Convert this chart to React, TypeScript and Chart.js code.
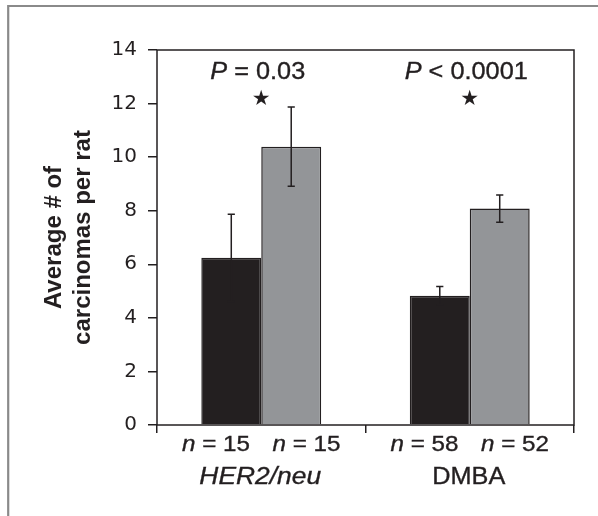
import React, { useEffect, useRef } from 'react';
import { Chart, registerables } from 'chart.js';

Chart.register(...registerables);

// ---- data ----
const categories = ['HER2/neu', 'DMBA'];
const categoryItalic = [true, false];
const darkValues = [6.24, 4.83];
const darkErrors = [1.63, 0.34];
const greyValues = [10.39, 8.08];
const greyErrors = [1.48, 0.51];
const darkN = [15, 58];
const greyN = [15, 52];
const pComparisons = ['= 0.03', '< 0.0001'];
const yTickMin = 0;
const yTickMax = 14;
const yTickStep = 2;
const yTitle = ['Average # of', 'carcinomas per rat'];

const INK = '#231f20';
const GREY = '#939598';
const STRETCH = 1.1;

type Part = { text: string; italic?: boolean };

function drawRich(
  ctx: CanvasRenderingContext2D,
  parts: Part[],
  cx: number,
  baseline: number,
  size: number
) {
  ctx.save();
  ctx.translate(cx, baseline);
  ctx.scale(STRETCH, 1);
  ctx.textBaseline = 'alphabetic';
  ctx.textAlign = 'left';
  ctx.fillStyle = INK;
  ctx.strokeStyle = INK;
  ctx.lineWidth = 0.35;
  const fonts = parts.map(
    (p) => `${p.italic ? 'italic ' : ''}${size}px "Liberation Sans", Arial, sans-serif`
  );
  const widths = parts.map((p, i) => {
    ctx.font = fonts[i];
    return ctx.measureText(p.text).width;
  });
  const total = widths.reduce((a, b) => a + b, 0);
  let x = -total / 2;
  parts.forEach((p, i) => {
    ctx.font = fonts[i];
    ctx.fillText(p.text, x, 0);
    ctx.strokeText(p.text, x, 0);
    x += widths[i];
  });
  ctx.restore();
}

const decorPlugin = {
  id: 'decor',
  beforeDraw(chart: any) {
    const ctx: CanvasRenderingContext2D = chart.ctx;
    ctx.save();
    ctx.fillStyle = '#ffffff';
    ctx.fillRect(0, 0, chart.width, chart.height);
    ctx.strokeStyle = '#8a8a8a';
    ctx.lineWidth = 2.2;
    ctx.beginPath();
    ctx.moveTo(8.2, chart.height + 2);
    ctx.lineTo(8.2, 6);
    ctx.lineTo(chart.width + 2, 6);
    ctx.stroke();
    ctx.restore();
  },
  afterDatasetsDraw(chart: any) {
    const ctx: CanvasRenderingContext2D = chart.ctx;
    const yScale = chart.scales.y;
    const errs = [darkErrors, greyErrors];
    const vals = [darkValues, greyValues];
    ctx.save();
    ctx.strokeStyle = INK;
    ctx.lineWidth = 1.5;
    for (let d = 0; d < 2; d++) {
      const meta = chart.getDatasetMeta(d);
      meta.data.forEach((bar: any, i: number) => {
        const x = bar.x;
        const yHi = yScale.getPixelForValue(vals[d][i] + errs[d][i]);
        const yLo = yScale.getPixelForValue(vals[d][i] - errs[d][i]);
        const cap = 3.6;
        ctx.beginPath();
        ctx.moveTo(x, yHi);
        ctx.lineTo(x, yLo);
        ctx.moveTo(x - cap, yHi);
        ctx.lineTo(x + cap, yHi);
        ctx.moveTo(x - cap, yLo);
        ctx.lineTo(x + cap, yLo);
        ctx.stroke();
      });
    }
    ctx.restore();
  },
  afterDraw(chart: any) {
    const ctx: CanvasRenderingContext2D = chart.ctx;
    const area = chart.chartArea;
    const xScale = chart.scales.x;
    ctx.save();
    ctx.strokeStyle = INK;
    ctx.lineWidth = 1.5;
    ctx.strokeRect(area.left, area.top, area.right - area.left, area.bottom - area.top);
    ctx.restore();

    const catW = xScale.width / categories.length;
    categories.forEach((cat, i) => {
      const cx = xScale.getPixelForValue(i);
      // n labels
      drawRich(ctx, [{ text: 'n', italic: true }, { text: ` = ${darkN[i]}` }], cx - 0.217 * catW, area.bottom + 26, 22);
      drawRich(ctx, [{ text: 'n', italic: true }, { text: ` = ${greyN[i]}` }], cx + 0.217 * catW, area.bottom + 26, 22);
      // category label
      drawRich(ctx, [{ text: cat, italic: categoryItalic[i] }], cx - 1, area.bottom + 59, categoryItalic[i] ? 24 : 23);
      // P value
      drawRich(ctx, [{ text: 'P', italic: true }, { text: ` ${pComparisons[i]}` }], cx - 3.5, area.top + 29, 23);
      // star
      ctx.save();
      ctx.fillStyle = INK;
      ctx.font = '21px "DejaVu Sans", sans-serif';
      ctx.textAlign = 'center';
      ctx.textBaseline = 'middle';
      ctx.fillText('\u2605', cx, area.top + 50);
      ctx.restore();
    });
  },
};

export default function App() {
  const ref = useRef<HTMLCanvasElement>(null);
  useEffect(() => {
    if (!ref.current) return;
    const chart = new Chart(ref.current, {
      type: 'bar',
      data: {
        labels: categories,
        datasets: [
          {
            label: 'Dark bars',
            data: darkValues,
            backgroundColor: INK,
            borderColor: INK,
            borderWidth: 1.5,
            barPercentage: 1,
            categoryPercentage: 0.575,
          },
          {
            label: 'Grey bars',
            data: greyValues,
            backgroundColor: GREY,
            borderColor: INK,
            borderWidth: 1.5,
            barPercentage: 1,
            categoryPercentage: 0.575,
          },
        ],
      },
      options: {
        responsive: false,
        animation: false,
        devicePixelRatio: 1,
        layout: { padding: { top: 50, right: 24, left: 0, bottom: 0 } },
        plugins: {
          legend: { display: false },
          tooltip: { enabled: false },
        },
        scales: {
          x: {
            grid: {
              display: true,
              drawOnChartArea: false,
              drawTicks: true,
              tickLength: 8,
              color: INK,
              lineWidth: 1.5,
              offset: true,
            },
            border: { display: false },
            ticks: { display: false },
            afterFit: (s: any) => {
              s.height = 91;
            },
          },
          y: {
            min: yTickMin,
            max: yTickMax,
            grid: {
              display: true,
              drawOnChartArea: false,
              drawTicks: true,
              tickLength: 9,
              color: INK,
              lineWidth: 1.5,
            },
            border: { display: false },
            ticks: {
              stepSize: yTickStep,
              padding: 11,
              color: INK,
              font: { family: '"DejaVu Sans", sans-serif', size: 20 },
            },
            title: {
              display: true,
              text: yTitle,
              color: INK,
              font: { family: '"Liberation Sans", Arial, sans-serif', size: 24, weight: 'bold', lineHeight: 1.2083 },
              padding: { top: 40, bottom: 0 },
            },
            afterFit: (s: any) => {
              s.width = 157;
            },
          },
        },
      },
      plugins: [decorPlugin],
    } as any);
    return () => chart.destroy();
  }, []);
  return (
    <div style={{ position: 'fixed', left: 0, top: 0, width: 598, height: 516, background: '#fff' }}>
      <canvas ref={ref} width={598} height={516} style={{ display: 'block', width: 598, height: 516 }} />
    </div>
  );
}
